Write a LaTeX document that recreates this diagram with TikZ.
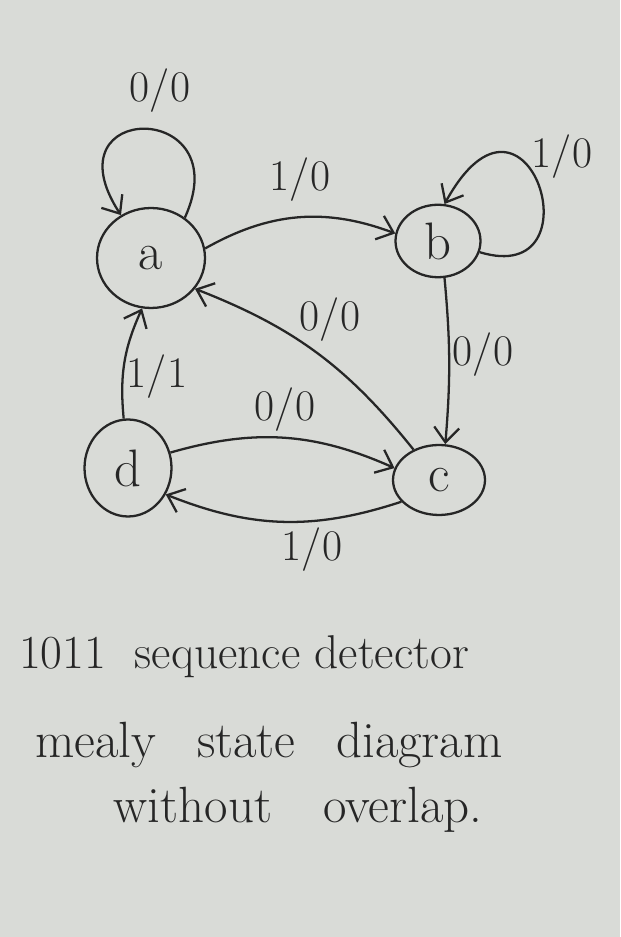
\documentclass[tikz,border=0pt]{standalone}
\usetikzlibrary{shapes.geometric,arrows.meta}
\definecolor{paper}{RGB}{217,219,215}
\definecolor{ink}{RGB}{38,38,38}
\tikzset{
  state/.style={draw=ink, ellipse, line width=1.3pt, inner sep=0pt, font=\fontsize{30}{34}\selectfont, text=ink},
  lbl/.style={font=\Huge, text=ink, inner sep=1pt},
  caption/.style={font=\fontsize{29}{34}\selectfont, text=ink, inner sep=1pt},
  wire/.style={draw=ink, line width=1.3pt, -{Straight Barb[length=3mm,width=5mm,line width=1.3pt]}}
}
\begin{document}
\begin{tikzpicture}[x=0.02cm, y=0.02cm]
		% Paper, states and transitions:
		\fill[paper] (0,0) rectangle (620,937);
		\useasboundingbox (0,0) rectangle (620,937);
		\node[state, minimum width=2.16cm, minimum height=2cm] (a) at (151,679){a};
		\node[state, minimum width=1.7cm, minimum height=1.45cm] (b) at (438,696){b};
		\node[state, minimum width=1.84cm, minimum height=1.4cm] (c) at (439,457){c};
		\node[state, minimum width=1.74cm, minimum height=1.94cm] (d) at (128,469){d};
		\draw[wire] (a.50) .. controls +(54,118) and +(-75,115) .. (a.125);
		\draw[wire] (b.-15) .. controls +(121,-37) and +(83,151) .. (b.80);
		\draw[wire] (a.10) to[bend left=25] (b.170);
		\draw[wire] (c.130) to[bend right=15] (a.-35);
		\draw[wire] (b.-80) to[bend left=5] (c.80);
		\draw[wire] (d.95) to[bend left=15] (a.-100);
		\draw[wire] (d.20) to[bend left=20] (c.165);
		\draw[wire] (c.-150) to[bend left=20] (d.-35);
		\node[lbl] (aa) at (160,846){0/0};
		\node[lbl] (ab) at (300,757){1/0};
		\node[lbl] (bb) at (562,780){1/0};
		\node[lbl] (ca) at (330,617){0/0};
		\node[lbl] (bc) at (483,582){0/0};
		\node[lbl] (da) at (157,560){1/1};
		\node[lbl] (dc) at (285,527){0/0};
		\node[lbl] (cd) at (312,387){1/0};
		\node[caption, font=\fontsize{27}{32}\selectfont] (capA) at (244,280){1011\hspace{0.6em}sequence detector};
		\node[caption] (capB) at (269,192){mealy\hspace{0.8em}state\hspace{0.8em}diagram};
		\node[caption] (capC) at (298,127){without\hspace{1em}overlap.};
	\end{tikzpicture}
\end{document}
